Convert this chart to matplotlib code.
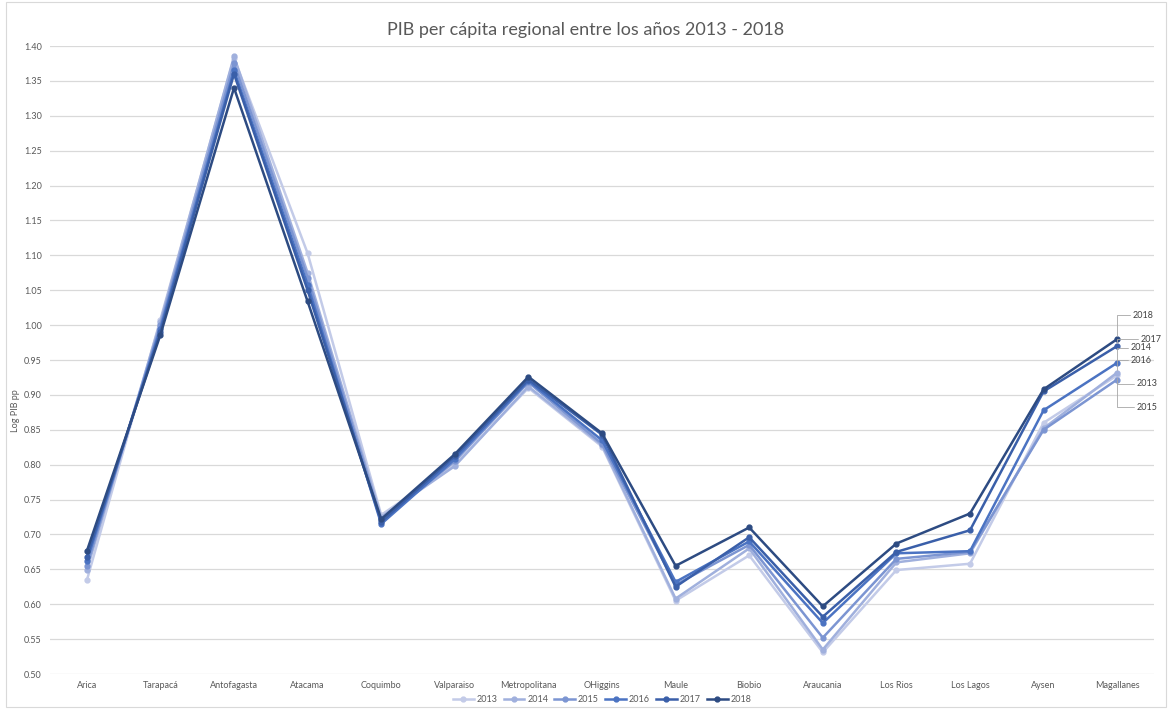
import matplotlib
matplotlib.use("Agg")
import matplotlib.pyplot as plt
from matplotlib.patches import Rectangle

plt.rcParams['font.family'] = ['Lato', 'DejaVu Sans']

regions = ["Arica", "Tarapacá", "Antofagasta", "Atacama", "Coquimbo", "Valparaiso",
           "Metropolitana", "OHiggins", "Maule", "Biobio", "Araucania", "Los Rios",
           "Los Lagos", "Aysen", "Magallanes"]
years = ["2013", "2014", "2015", "2016", "2017", "2018"]

v2013 = [0.634, 1.008, 1.383, 1.103, 0.728, 0.800, 0.910, 0.826, 0.605, 0.670, 0.531, 0.649, 0.658, 0.860, 0.928]
v2014 = [0.649, 1.005, 1.385, 1.075, 0.725, 0.798, 0.912, 0.828, 0.608, 0.680, 0.535, 0.660, 0.673, 0.852, 0.932]
v2015 = [0.655, 1.000, 1.375, 1.068, 0.720, 0.805, 0.918, 0.830, 0.628, 0.685, 0.552, 0.665, 0.675, 0.850, 0.922]
v2016 = [0.662, 0.995, 1.365, 1.058, 0.715, 0.808, 0.920, 0.835, 0.632, 0.690, 0.573, 0.673, 0.676, 0.878, 0.946]
v2017 = [0.668, 0.990, 1.360, 1.050, 0.718, 0.812, 0.922, 0.843, 0.625, 0.696, 0.582, 0.675, 0.706, 0.905, 0.970]
v2018 = [0.676, 0.986, 1.340, 1.034, 0.722, 0.815, 0.926, 0.845, 0.655, 0.710, 0.597, 0.687, 0.730, 0.908, 0.980]
series = [v2013, v2014, v2015, v2016, v2017, v2018]

colors = ["#c3cbe8", "#a0b0dd", "#7c95d2", "#4b73c2", "#3a5fa9", "#2d4b82"]

# end-label offsets (points) for the series names at the last category
label_offsets = [(14, -6), (10, 18), (14, -20), (10, 2), (17, 5), (11, 17)]

fig = plt.figure(figsize=(11.72, 7.09), dpi=100)
ax = fig.add_axes([50 / 1172, 1 - 674 / 709, (1154 - 50) / 1172, (674 - 46) / 709])

x = list(range(len(regions)))
for yr, vals, c in zip(years, series, colors):
    ax.plot(x, vals, color=c, lw=1.8, marker='o', ms=3.5, label=yr, zorder=3)

for yr, vals, c, off in zip(years, series, colors, label_offsets):
    ax.annotate(yr, xy=(x[-1], vals[-1]), xytext=off, textcoords='offset points',
                fontsize=6.5, color='#404040', va='center', ha='left',
                arrowprops=dict(arrowstyle='-', color='#a6a6a6', lw=0.6,
                                connectionstyle='angle,angleA=0,angleB=90,rad=0',
                                shrinkA=0, shrinkB=2))

ax.set_xlim(-0.5, len(regions) - 0.5)
ax.set_ylim(0.50, 1.40)
ax.set_yticks([0.50 + 0.05 * i for i in range(19)])
ax.set_yticklabels([f"{0.50 + 0.05 * i:.2f}" for i in range(19)])
ax.set_xticks(x)
ax.set_xticklabels(regions)
ax.tick_params(axis='both', length=0, labelsize=6.5, labelcolor='#595959')
ax.tick_params(axis='x', pad=5)
ax.tick_params(axis='y', pad=6)
ax.grid(axis='y', color='#d9d9d9', lw=0.9, zorder=0)
for s in ax.spines.values():
    s.set_visible(False)

ax.set_ylabel("Log PIB pp", fontsize=6.5, color='#595959')
ax.yaxis.set_label_coords(-0.027, 0.42)

fig.text(0.5, 1 - 30 / 709, "PIB per cápita regional entre los años 2013 - 2018",
         ha='center', va='center', fontsize=13, color='#595959')

leg = ax.legend(loc='center', bbox_to_anchor=(0.5, -(700 - 674) / 628), ncol=6, frameon=False,
                fontsize=6.5, handlelength=2.3, columnspacing=0.7, handletextpad=0.3)
for t in leg.get_texts():
    t.set_color('#595959')

fig.patches.append(Rectangle((6 / 1172, 2 / 709), 1 - 12 / 1172, 1 - 4 / 709,
                             transform=fig.transFigure, fill=False,
                             edgecolor='#d9d9d9', lw=0.8))

fig.savefig("out.png", dpi=100)
